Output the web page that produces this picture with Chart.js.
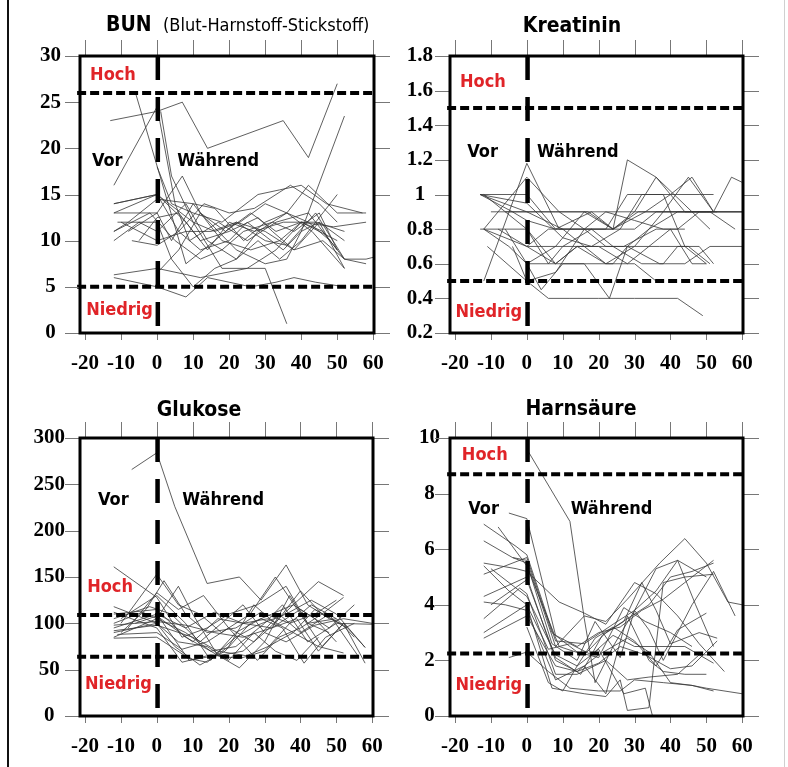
<!DOCTYPE html>
<html>
<head>
<meta charset="utf-8">
<script src="https://cdn.jsdelivr.net/npm/chart.js@4.4.1/dist/chart.umd.min.js"></script>
<style>
  body { margin: 0; background: #fff; }
  #wrap { position: relative; width: 788px; height: 767px; overflow: hidden; }
  #wrap canvas { position: absolute; }
  .edge { position: absolute; top: 0; height: 767px; }
</style>
</head>
<body>
<div id="wrap">
  <div class="edge" style="left:7px;width:2px;background:#111"></div>
  <div class="edge" style="left:784px;width:1px;background:#d0d0d0"></div>
  <canvas id="bun" width="394" height="384" style="left:0;top:0"></canvas>
  <canvas id="krea" width="394" height="384" style="left:394px;top:0"></canvas>
  <canvas id="glu" width="394" height="384" style="left:0;top:384px"></canvas>
  <canvas id="harn" width="394" height="384" style="left:394px;top:384px"></canvas>
</div>
<script>
// Tage relativ zum Beginn (x) und Messwerte je Proband (y)
const xTicks = [-20, -10, 0, 10, 20, 30, 40, 50, 60]
const bunTicks = [0, 5, 10, 15, 20, 25, 30]
const kreaTicks = [0.2, 0.4, 0.6, 0.8, 1, 1.2, 1.4, 1.6, 1.8]
const gluTicks = [0, 50, 100, 150, 200, 250, 300]
const harnTicks = [0, 2, 4, 6, 8, 10]

// Normbereich: [Niedrig, Hoch]
const bunNorm = [5, 26]
const kreaNorm = [0.5, 1.5]
const gluNorm = [64, 109]
const harnNorm = [2.25, 8.7]

const bunSubjects = [
  [[-13,23],[0,24],[7,25],[14,20],[35,23],[42,19],[50,27]],
  [[-12,16],[0,24.5],[5,14],[9,10],[17,12],[25,10],[33,12],[42,13],[50,9]],
  [[-6,26],[8,7.5],[16,10],[22,12],[30,11],[38,9],[45,12],[52,7]],
  [[0,18],[4,14],[10,13],[18,12],[28,15],[34,15.5],[40,16],[47,14],[57,13]],
  [[-12,13],[0,13],[7,17],[12,13],[19,11],[26,13],[33,11],[40,12],[50,10]],
  [[-12,14],[0,15],[10,12],[16,11],[23,12],[30,14],[36,13],[42,16],[50,13],[58,13]],
  [[-12,11],[-8,12],[0,14.5],[10,14],[18,10],[26,9],[34,10],[40,12],[49,11.5],[58,12]],
  [[-12,10],[-5,12],[0,11],[8,14],[14,10],[22,8],[28,11],[36,13],[43,11],[52,7]],
  [[-12,11],[-2,13],[5,10],[12,8],[18,9],[24,11],[32,12],[38,11],[45,13],[50,9]],
  [[-7,10],[0,9.5],[6,11],[13,14],[20,13],[27,13.5],[33,15],[37,16],[45,14],[50,12]],
  [[-12,14],[0,15],[6,11],[12,9],[20,10],[25,12],[35,9],[40,11],[45,12],[52,10]],
  [[-10,12],[0,10],[8,11],[15,11],[22,12],[30,10],[36,9.5],[44,13],[52,8],[58,8],[60,8.2]],
  [[-12,6.3],[0,7],[12,6],[25,7],[30,7],[36,1]],
  [[-12,6],[0,5],[8,3.9],[14,6],[26,5],[33,5.5],[38,6],[44,5.5],[52,5]],
  [[-11,12],[0,12],[4,8],[10,5],[16,7],[22,8],[28,10],[34,8],[40,10],[46,13],[50,15]],
  [[0,6.5],[6,9],[12,13],[17,11],[22,9],[30,7.5],[36,8],[40,11],[52,23.5]],
  [[1,24],[4,17],[10,12],[18,7],[25,7],[33,9],[40,12],[46,11],[52,8],[58,7.5]],
  [[-5,10],[0,12.5],[6,13],[12,10],[20,11],[28,12.5],[32,11],[38,9],[46,10],[52,8]],
  [[-12,13],[0,15],[8,12],[14,9],[20,12],[27,11],[35,12],[44,12],[52,11]],
  [[-8,11],[0,13],[4,10],[10,14],[16,13.5],[24,10],[30,12],[36,13],[42,12],[48,10]]
]

const kreaSubjects = [
  [[-12,0.5],[0,1.18],[9,0.8],[15,0.8],[22,0.8],[30,0.8],[36,0.9],[44,0.9],[52,0.9],[60,0.9]],
  [[-12,0.8],[0,1.1],[9,0.9],[17,0.9],[24,0.8],[33,0.9],[40,1.0],[46,1.1],[52,0.9]],
  [[-13,1.0],[0,1.0],[8,0.8],[15,0.8],[22,0.8],[28,1.0],[38,1.0],[48,1.0],[52,1.0]],
  [[-13,1.0],[0,0.9],[9,0.9],[16,0.8],[22,0.7],[30,0.7],[37,0.7],[45,0.7],[51,0.6]],
  [[-13,1.0],[-4,0.9],[0,0.85],[8,0.8],[18,0.9],[24,0.8],[31,0.9],[44,0.9],[52,0.9]],
  [[-12,0.8],[0,0.7],[8,0.6],[14,0.7],[20,0.7],[27,0.7],[36,0.8],[42,0.8],[48,0.9],[60,0.9]],
  [[-12,0.8],[-5,0.7],[0,0.6],[8,0.6],[16,0.6],[24,0.6],[28,0.7],[37,0.6],[44,0.6],[51,0.7],[60,0.7]],
  [[-11,0.7],[0,0.5],[6,0.4],[12,0.4],[20,0.4],[30,0.4],[42,0.4],[49,0.3]],
  [[-6,0.9],[0,0.9],[8,0.9],[16,0.9],[24,0.9],[32,0.9],[42,0.9],[50,0.9],[60,0.9]],
  [[-10,0.9],[0,0.9],[10,0.8],[16,0.7],[22,0.6],[30,0.6],[36,0.5]],
  [[-13,0.8],[0,0.8],[6,0.6],[10,0.7],[18,0.8],[24,0.7],[32,0.6],[38,0.6],[42,0.7],[48,0.7],[52,0.6]],
  [[-6,0.8],[0,0.6],[4,0.45],[10,0.6],[16,0.6],[23,0.4],[28,0.7],[34,0.8],[42,0.9],[48,0.9],[53,0.9]],
  [[0,0.6],[8,0.7],[16,0.9],[24,0.8],[28,1.2],[36,1.1],[46,0.9],[51,0.8]],
  [[0,0.7],[6,0.8],[14,0.8],[24,0.8],[30,0.9],[36,1.1],[44,0.9],[51,0.9],[58,0.8]],
  [[-12,1.0],[0,0.8],[8,0.6],[14,0.7],[22,0.6],[30,0.7],[38,0.9],[45,1.1],[52,0.9],[57,1.1],[60,1.07]],
  [[-8,0.8],[0,0.7],[10,0.7],[20,0.7],[28,0.6],[34,0.7],[40,0.8],[46,0.6],[50,0.6]],
  [[-13,1.0],[0,0.95],[10,0.75],[18,0.7],[26,0.8],[32,1.0],[38,1.0],[44,0.7],[50,0.6]],
  [[-4,0.7],[0,0.5],[8,0.55],[16,0.8],[22,0.9],[30,0.85],[38,0.8],[44,0.8]]
]

const gluSubjects = [
  [[-7,266],[0,284],[5,226],[14,143],[23,150],[29,125],[36,163],[42,120],[48,105]],
  [[-12,161],[0,128],[7,85],[14,95],[20,110],[28,120],[36,140],[42,100],[50,105],[55,85]],
  [[-12,85],[0,105],[6,140],[10,110],[17,65],[24,70],[30,90],[38,120],[45,145],[52,130]],
  [[-10,100],[0,153],[6,120],[12,110],[18,90],[26,110],[33,150],[40,110],[46,75],[52,100],[58,57]],
  [[-12,110],[0,115],[8,85],[15,70],[22,75],[30,100],[35,120],[42,80],[50,100],[60,99]],
  [[-12,95],[0,110],[9,60],[16,65],[22,85],[28,98],[36,110],[43,125],[50,110],[58,74]],
  [[-12,100],[-4,112],[0,105],[8,90],[15,70],[23,52],[30,80],[37,130],[42,100],[48,90]],
  [[-11,88],[0,90],[7,72],[14,80],[20,95],[28,60],[34,85],[40,95],[46,110],[53,95]],
  [[-12,118],[0,100],[5,75],[12,55],[19,70],[26,100],[32,110],[38,120],[44,105],[50,80]],
  [[-10,105],[0,130],[8,100],[15,60],[22,90],[29,105],[35,95],[41,57],[47,85],[55,100]],
  [[-12,92],[0,98],[10,85],[17,70],[25,65],[31,75],[38,90],[44,115],[51,100]],
  [[-12,105],[-2,118],[4,110],[12,80],[18,100],[24,120],[30,90],[36,80],[44,98],[52,105],[60,100]],
  [[-12,84],[0,85],[9,62],[14,58],[20,75],[27,120],[33,100],[40,135],[46,110],[52,128]],
  [[-8,95],[0,133],[6,115],[13,130],[20,95],[27,80],[34,110],[40,90],[48,110],[56,65]],
  [[-12,98],[0,102],[8,98],[16,90],[24,85],[32,95],[39,105],[45,70],[52,100],[58,74]],
  [[-12,112],[0,95],[7,58],[15,66],[23,62],[30,70],[37,100],[44,110],[50,125]],
  [[-10,90],[-3,115],[2,146],[8,110],[14,90],[22,95],[29,112],[37,100],[43,120],[50,105]],
  [[0,110],[8,95],[16,112],[24,100],[32,95],[40,115],[48,95],[55,120]],
  [[-12,90],[0,100],[6,80],[14,75],[20,60],[27,90],[33,70],[39,60],[45,85]],
  [[-6,100],[0,108],[10,80],[17,105],[24,100],[31,105],[38,90],[45,75],[52,68]]
]

const harnSubjects = [
  [[0,9.6],[12,7.0],[16,3.5],[19,1.2],[24,2.5],[30,3.8],[36,4.5],[42,5.6],[47,4.0],[52,2.5]],
  [[-5,7.3],[0,7.1],[8,2.9],[14,2.5],[20,3.0],[26,3.2],[32,3.8],[38,4.2],[44,4.8],[52,5.6]],
  [[-12,6.9],[-3,6.1],[0,5.8],[8,2.7],[16,2.6],[24,3.3],[30,3.8],[36,5.3],[42,5.6],[50,5.0]],
  [[-12,6.3],[-4,5.7],[0,5.6],[8,2.5],[16,3.6],[22,3.4],[28,4.2],[37,5.5],[44,6.38],[50,5.5],[56,4.1],[60,4.0]],
  [[-12,5.5],[-3,5.3],[0,5.2],[9,4.1],[16,3.7],[22,3.3],[30,4.8],[36,4.4],[42,3.6],[48,2.6],[55,1.6]],
  [[-12,5.1],[0,5.7],[7,3.0],[14,2.3],[20,2.1],[27,3.9],[33,3.4],[40,3.0],[46,2.5]],
  [[-12,4.3],[0,5.0],[8,2.0],[14,1.6],[20,1.9],[26,2.5],[33,2.2],[40,1.7],[46,1.8],[53,2.7]],
  [[-12,3.5],[-2,4.6],[0,4.4],[8,1.5],[14,1.5],[22,2.0],[28,1.3],[34,1.4],[42,1.5],[48,2.2],[52,2.2]],
  [[-12,3.0],[0,4.0],[7,1.0],[16,0.8],[22,0.7],[26,1.3],[28,0.2],[34,0.3],[38,4.8],[44,5.0],[52,5.1]],
  [[-12,2.8],[0,3.6],[8,1.8],[14,1.6],[20,2.2],[28,2.8],[34,2.3],[40,1.2],[46,1.1],[50,1.0],[60,0.8]],
  [[-12,4.1],[-6,4.0],[0,3.8],[8,1.3],[16,1.8],[22,0.8],[28,3.6],[34,2.0],[38,1.6],[44,1.5],[50,1.5]],
  [[-12,5.4],[-5,4.5],[0,4.0],[6,2.4],[12,2.6],[18,2.2],[24,2.9],[30,2.5],[36,2.5],[44,2.5],[52,1.9]],
  [[-10,5.3],[0,4.3],[8,2.2],[14,1.8],[19,2.8],[24,3.2],[30,2.7],[36,1.8],[42,3.1],[50,3.7]],
  [[-8,6.8],[0,5.4],[9,2.5],[16,2.2],[22,3.0],[28,3.5],[34,4.0],[40,5.0],[46,5.2],[52,5.5]],
  [[-5,2.1],[0,2.3],[6,1.6],[12,1.0],[20,0.9],[26,0.9],[30,1.3],[38,1.2],[46,1.1],[52,0.9]],
  [[0,3.2],[6,1.2],[10,0.9],[14,1.8],[20,2.4],[27,0.8],[33,1.0],[35,0.0]],
  [[-10,4.0],[0,4.9],[8,2.1],[15,1.5],[21,2.9],[27,3.4],[32,4.8],[36,3.8],[40,2.6],[48,3.0],[53,2.8]],
  [[-4,5.7],[0,5.5],[7,2.6],[14,2.0],[19,3.4],[26,2.1],[30,3.8],[34,3.1],[38,2.0],[46,4.0],[52,5.2],[58,3.6]]
]

const RED = '#e02428'
const LABEL_FONT = 'bold 18px "DejaVu Sans Condensed", "DejaVu Sans", sans-serif'

// Rahmen, Tickstriche, Beschriftungen im Diagramm und Titel
const frame = {
  id: 'frame',
  afterDraw(chart, args, o) {
    const { ctx, chartArea: a, scales: { x, y } } = chart
    ctx.save()
    ctx.strokeStyle = '#777'
    ctx.lineWidth = 1
    ctx.beginPath()
    y.ticks.forEach(t => {
      const p = Math.round(y.getPixelForValue(t.value)) + 0.5
      ctx.moveTo(a.left - 15, p); ctx.lineTo(a.left, p)
      ctx.moveTo(a.right, p); ctx.lineTo(a.right + 16, p)
    })
    x.ticks.forEach(t => {
      const p = Math.round(x.getPixelForValue(t.value)) + 0.5
      ctx.moveTo(p, a.top - 16); ctx.lineTo(p, a.top)
      ctx.moveTo(p, a.bottom); ctx.lineTo(p, a.bottom + 7)
    })
    ctx.stroke()

    ctx.strokeStyle = '#000'
    ctx.lineWidth = 3
    ctx.strokeRect(a.left, a.top, a.right - a.left, a.bottom - a.top)

    ctx.font = LABEL_FONT
    ctx.textBaseline = 'middle'
    ctx.textAlign = 'left'
    o.notes.forEach(n => {
      ctx.fillStyle = n[3] ? RED : '#000'
      ctx.fillText(n[0], x.getPixelForValue(n[1]), y.getPixelForValue(n[2]))
    })

    ctx.textBaseline = 'alphabetic'
    ctx.fillStyle = '#000'
    const t = o.title
    ctx.font = 'bold 21px "DejaVu Sans Condensed", "DejaVu Sans", sans-serif'
    ctx.textAlign = t.sub ? 'left' : 'center'
    ctx.fillText(t.main, t.x, t.base)
    if (t.sub) {
      ctx.font = '18px "DejaVu Sans Condensed", "DejaVu Sans", sans-serif'
      ctx.fillText(t.sub, t.subX, t.base)
    }
    ctx.restore()
  }
}

function panel(id, subjects, yTicks, norm, box, yPad, title, notes) {
  const yMin = yTicks[0]
  const yMax = yTicks[yTicks.length - 1]
  const datasets = [
    {
      data: [{ x: -22.2, y: norm[1] }, { x: 60.6, y: norm[1] }],
      borderColor: '#000', borderWidth: 4, borderDash: [9, 4], clip: false, order: 0
    },
    {
      data: [{ x: -22.2, y: norm[0] }, { x: 60.6, y: norm[0] }],
      borderColor: '#000', borderWidth: 4, borderDash: [9, 4], clip: false, order: 0
    },
    {
      data: [{ x: 0.2, y: yMax }, { x: 0.2, y: yMin }],
      borderColor: '#000', borderWidth: 4.5, borderDash: [24, 17], order: 0
    }
  ]
  subjects.forEach(s => {
    datasets.push({
      data: s.map(p => ({ x: p[0], y: p[1] })),
      borderColor: 'rgba(55,55,55,0.8)', borderWidth: 1, order: 1
    })
  })

  const tickFont = { family: '"Liberation Serif", "Times New Roman", serif', weight: 'bold', size: 21 }
  const axisH = 50
  return new Chart(document.getElementById(id), {
    type: 'scatter',
    data: { datasets },
    plugins: [frame],
    options: {
      responsive: false,
      animation: false,
      showLine: true,
      elements: { point: { radius: 0 }, line: { tension: 0 } },
      layout: { padding: { left: 0, right: 394 - box.right, top: box.top, bottom: 384 - box.bottom - axisH } },
      scales: {
        x: {
          type: 'linear', min: -21.4, max: 60.2,
          afterBuildTicks: s => { s.ticks = xTicks.map(v => ({ value: v })) },
          afterFit: s => { s.height = axisH; s.paddingLeft = 0; s.paddingRight = 0 },
          grid: { display: false, drawTicks: false },
          border: { display: false },
          ticks: { font: tickFont, color: '#000', padding: 18, maxRotation: 0, autoSkip: false,
                   callback: v => String(v) }
        },
        y: {
          type: 'linear', min: yMin, max: yMax,
          afterBuildTicks: s => { s.ticks = yTicks.map(v => ({ value: v })) },
          afterFit: s => { s.width = box.left },
          grid: { display: false, drawTicks: false },
          border: { display: false },
          ticks: { font: tickFont, color: '#000', padding: yPad, crossAlign: 'center', autoSkip: false,
                   callback: v => String(+v.toFixed(1)) }
        }
      },
      plugins: {
        legend: { display: false },
        tooltip: { enabled: false },
        frame: { title, notes }
      }
    }
  })
}

panel('bun', bunSubjects, bunTicks, bunNorm, { left: 80, right: 374, top: 56, bottom: 333 }, 19,
  { main: 'BUN', sub: '(Blut-Harnstoff-Stickstoff)', x: 106, subX: 163, base: 31 },
  [['Hoch', -18.6, 27.9, true], ['Niedrig', -19.7, 2.5, true], ['Vor', -18.1, 18.6], ['Während', 5.6, 18.6]])

panel('krea', kreaSubjects, kreaTicks, kreaNorm, { left: 56, right: 349, top: 56, bottom: 333 }, 17,
  { main: 'Kreatinin', x: 178, base: 32 },
  [['Hoch', -18.6, 1.65, true], ['Niedrig', -19.9, 0.32, true], ['Vor', -16.6, 1.246], ['Während', 2.8, 1.246]])

panel('glu', gluSubjects, gluTicks, gluNorm, { left: 80, right: 373, top: 54, bottom: 332 }, 15,
  { main: 'Glukose', x: 199, base: 32 },
  [['Hoch', -19.4, 139, true], ['Niedrig', -20, 34, true], ['Vor', -16.4, 233], ['Während', 7.1, 233]])

panel('harn', harnSubjects, harnTicks, harnNorm, { left: 56, right: 349, top: 54, bottom: 332 }, 10,
  { main: 'Harnsäure', x: 187, base: 31 },
  [['Hoch', -18.1, 9.36, true], ['Niedrig', -19.9, 1.09, true], ['Vor', -16.3, 7.45], ['Während', 12.2, 7.45]])
</script>
</body>
</html>
